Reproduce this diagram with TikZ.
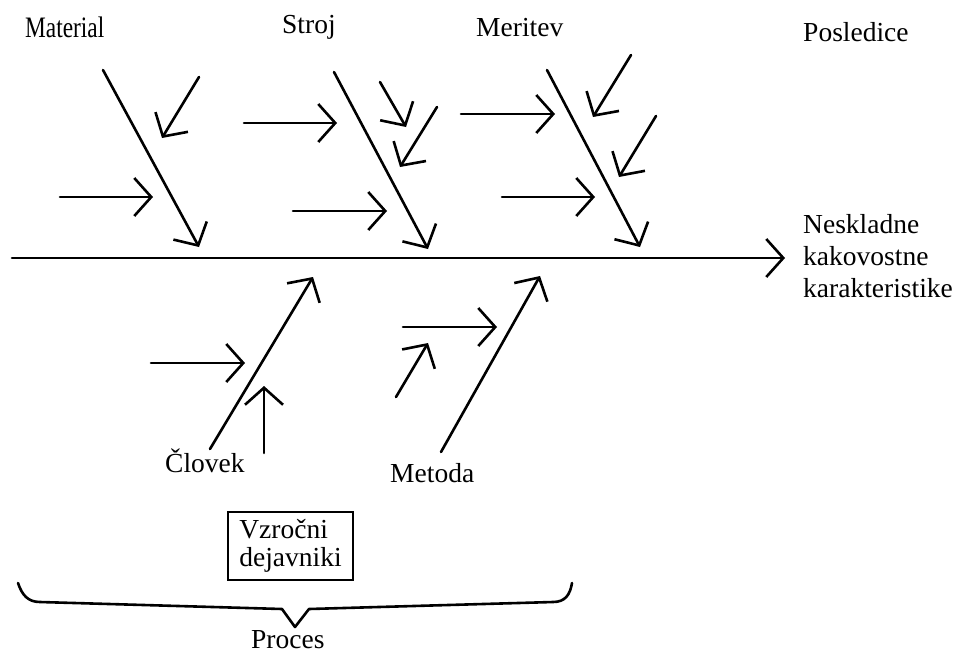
\documentclass[tikz,border=0pt]{standalone}
\usepackage{fontspec}
\setmainfont{Liberation Serif}
\usetikzlibrary{arrows.meta}
\tikzset{
  line/.style={line width=2.6pt, line cap=round, line join=miter},
  arr/.style={line, -{Straight Barb[length=17pt,width=38pt]}},
  lbl/.style={inner sep=0pt, anchor=base west, font=\fontsize{27.5}{32}\selectfont},
}
\begin{document}
\begin{tikzpicture}[x=1pt,y=-1pt]
\useasboundingbox (0,0) rectangle (960,654);
\fill[white] (0,0) rectangle (960,654);
% spine
\coordinate (sp0) at (12,258); \coordinate (sp1) at (785,258);
\draw[arr] (sp0) -- (sp1);
% Material
\coordinate (ma0) at (103,70); \coordinate (ma1) at (199,247);
\coordinate (m1a) at (199,77); \coordinate (m1b) at (162,138);
\coordinate (m2a) at (60,197); \coordinate (m2b) at (153,197);
\draw[arr] (ma0) -- (ma1);
\draw[arr] (m1a) -- (m1b);
\draw[arr] (m2a) -- (m2b);
% Stroj
\coordinate (st0) at (334,72); \coordinate (st1) at (428,249);
\coordinate (s1a) at (244,123); \coordinate (s1b) at (337,123);
\coordinate (s2a) at (380,82); \coordinate (s2b) at (406,127);
\coordinate (s3a) at (437,107); \coordinate (s3b) at (400,167);
\coordinate (s4a) at (293,211); \coordinate (s4b) at (387,211);
\draw[arr] (st0) -- (st1);
\draw[arr] (s1a) -- (s1b);
\draw[arr] (s2a) -- (s2b);
\draw[arr] (s3a) -- (s3b);
\draw[arr] (s4a) -- (s4b);
% Meritev
\coordinate (me0) at (547,70); \coordinate (me1) at (640,247);
\coordinate (r1a) at (461,114); \coordinate (r1b) at (555,114);
\coordinate (r2a) at (631,55); \coordinate (r2b) at (593,117);
\coordinate (r3a) at (656,116); \coordinate (r3b) at (619,177);
\coordinate (r4a) at (502,197); \coordinate (r4b) at (595,197);
\draw[arr] (me0) -- (me1);
\draw[arr] (r1a) -- (r1b);
\draw[arr] (r2a) -- (r2b);
\draw[arr] (r3a) -- (r3b);
\draw[arr] (r4a) -- (r4b);
% Clovek
\coordinate (cl0) at (210,449); \coordinate (cl1) at (313,277);
\coordinate (c1a) at (151,363); \coordinate (c1b) at (245,363);
\coordinate (c2a) at (264,453); \coordinate (c2b) at (264,386);
\draw[arr] (cl0) -- (cl1);
\draw[arr] (c1a) -- (c1b);
\draw[arr] (c2a) -- (c2b);
% Metoda
\coordinate (mt0) at (441,452); \coordinate (mt1) at (540,276);
\coordinate (t1a) at (403,327); \coordinate (t1b) at (497,327);
\coordinate (t2a) at (396,397); \coordinate (t2b) at (428,343);
\draw[arr] (mt0) -- (mt1);
\draw[arr] (t1a) -- (t1b);
\draw[arr] (t2a) -- (t2b);
% labels
\node[lbl, xscale=0.85, yscale=1.08] (lmat) at (25,37) {Material};
\node[lbl] (lstr) at (282,33) {Stroj};
\node[lbl] (lmer) at (476,36) {Meritev};
\node[lbl] (lpos) at (803,41) {Posledice};
\node[lbl, align=left] (lnes) at (803,297) {Neskladne\\kakovostne\\karakteristike};
\node[lbl] (lclo) at (165,472) {Človek};
\node[lbl] (lmet) at (390,482) {Metoda};
\node[lbl] (lpro) at (251,648) {Proces};
% box
\node[draw, line width=2.4pt, minimum width=125pt, minimum height=68pt, inner sep=0pt,
      font=\fontsize{27.5}{28}\selectfont, align=left] (box) at (290.5,546) {Vzročni\\dejavniki};
% brace
\draw[line, line join=round] (18,583) .. controls (22,595) and (28,602) .. (40,602)
   -- (282,609) -- (295,627) -- (309,609) -- (553,602)
   .. controls (565,602) and (570,595) .. (572,583);
\end{tikzpicture}
\end{document}
